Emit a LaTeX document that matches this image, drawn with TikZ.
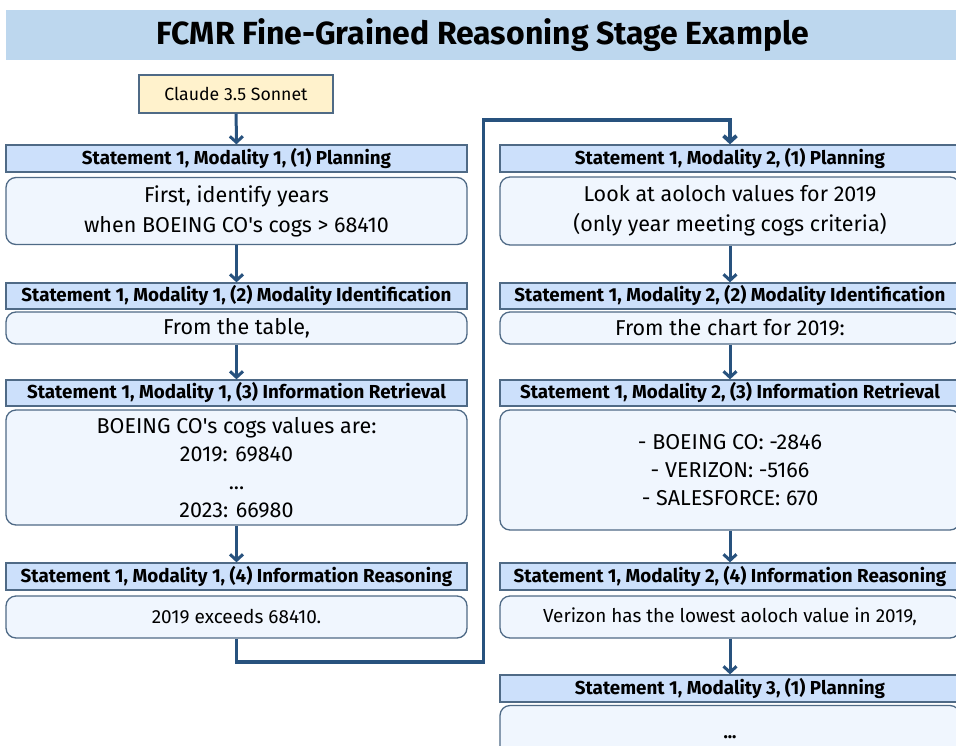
\documentclass[tikz,border=0pt]{standalone}
\usepackage{fontspec}
\setmainfont{Fira Sans}[Ligatures=TeXOff]
\usetikzlibrary{arrows.meta}
\definecolor{band}{HTML}{BDD7EE}
\definecolor{hdrfill}{HTML}{CCE0FB}
\definecolor{hdrdraw}{HTML}{4F6A86}
\definecolor{boxfill}{HTML}{F0F6FE}
\definecolor{arr}{HTML}{28527E}
\definecolor{llmfill}{HTML}{FFF2CC}
\begin{document}
\begin{tikzpicture}[x=1pt,y=-1pt,
  hdr/.style={draw=hdrdraw, line width=1.3pt, fill=hdrfill, inner sep=0pt,
    minimum width=461pt, minimum height=27pt, font=\fontsize{18.8}{21}\selectfont\bfseries},
  rhdr/.style={hdr, minimum width=460pt},
  cbox/.style={draw=hdrdraw, line width=1.3pt, fill=boxfill, rounded corners=10pt,
    inner sep=0pt, align=center, minimum width=461pt, font=\fontsize{21.5}{28}\selectfont},
  rcbox/.style={cbox, minimum width=460pt},
  flow/.style={draw=arr, line width=3pt, -{Straight Barb[length=6pt,width=13pt]}},
  llm/.style={draw=hdrdraw, line width=1.3pt, fill=llmfill, inner sep=0pt,
    minimum width=194pt, minimum height=38pt, font=\fontsize{17.7}{20}\selectfont}
]
\useasboundingbox (0,0) rectangle (956,745);
\node[fill=band, inner sep=0pt, minimum width=954pt, minimum height=50pt,
  font=\fontsize{32}{36}\selectfont\bfseries] (title) at (483,35)
  {FCMR Fine-Grained Reasoning Stage Example};
\node[llm] (llm) at (236,94) {Claude 3.5 Sonnet};

% left column
\node[hdr] (h11) at (236.5,158.5) {Statement 1, Modality 1, (1) Planning};
\node[cbox, minimum height=67pt, font=\fontsize{21.5}{30}\selectfont] (c11) at (236.5,211) {First, identify years\\when BOEING CO's cogs > 68410};
\node[hdr, minimum height=26pt] (h12) at (236.5,296) {Statement 1, Modality 1, (2) Modality Identification};
\node[cbox, minimum height=32pt] (c12) at (236.5,328) {From the table,};
\node[hdr, minimum height=26pt] (h13) at (236.5,393) {Statement 1, Modality 1, (3) Information Retrieval};
\node[cbox, minimum height=115pt] (c13) at (236.5,467.5) {BOEING CO's cogs values are:\\2019: 69840\\...\\2023: 66980};
\node[hdr] (h14) at (236.5,576.5) {Statement 1, Modality 1, (4) Information Reasoning};
\node[cbox, minimum height=42pt, font=\fontsize{19}{22}\selectfont] (c14) at (236.5,617) {2019 exceeds 68410.};

% right column
\node[rhdr] (h21) at (730,158.5) {Statement 1, Modality 2, (1) Planning};
\node[rcbox, minimum height=68pt, font=\fontsize{21.5}{30}\selectfont] (c21) at (730,211) {Look at aoloch values for 2019\\(only year meeting cogs criteria)};
\node[rhdr, minimum height=26pt] (h22) at (730,296) {Statement 1, Modality 2, (2) Modality Identification};
\node[rcbox, minimum height=32pt] (c22) at (730,328) {From the chart for 2019:};
\node[rhdr, minimum height=26pt] (h23) at (730,393) {Statement 1, Modality 2, (3) Information Retrieval};
\node[rcbox, minimum height=120pt] (c23) at (730,470) {- BOEING CO: -2846\\- VERIZON: -5166\\- SALESFORCE: 670};
\node[rhdr] (h24) at (730,576.5) {Statement 1, Modality 2, (4) Information Reasoning};
\node[rcbox, minimum height=42pt, font=\fontsize{18.9}{22}\selectfont] (c24) at (730,617) {Verizon has the lowest aoloch value in 2019,};
\node[rhdr] (h25) at (730,688.5) {Statement 1, Modality 3, (1) Planning};
\node[rcbox, minimum height=63pt, font=\fontsize{18}{21}\selectfont\bfseries] (c25) at (730,737) {...};

% connectors
\draw[flow] (llm) -- (h11);
\draw[flow] (c11) -- (h12);
\draw[flow] (c12) -- (h13);
\draw[flow] (c13) -- (h14);
\coordinate (k2) at (483.5,662);
\coordinate (k3) at (483.5,120);
\draw[flow, line width=3.8pt] (c14.south) |- (k2) -- (k3) -| (h21.north);
\draw[flow] (c21) -- (h22);
\draw[flow] (c22) -- (h23);
\draw[flow] (c23) -- (h24);
\draw[flow] (c24) -- (h25);
\end{tikzpicture}
\end{document}
